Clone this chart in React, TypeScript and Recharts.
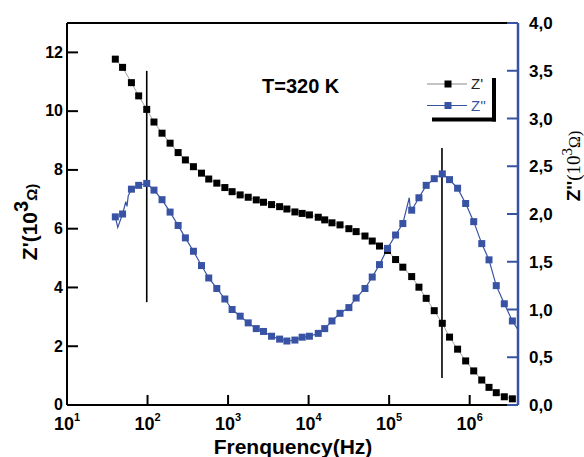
import React from 'react';
import { LineChart, Line, XAxis, YAxis, ReferenceLine, Legend } from 'recharts';

// log10 of frequency (Hz) for each measured point
const logFreq = [1.60, 1.69, 1.80, 1.89, 1.99, 2.08, 2.18, 2.28, 2.38, 2.47, 2.57, 2.67, 2.76, 2.86, 2.96, 3.05, 3.15, 3.25, 3.35, 3.44, 3.54, 3.64, 3.73, 3.83, 3.92, 4.01, 4.12, 4.20, 4.29, 4.39, 4.50, 4.59, 4.70, 4.79, 4.88, 4.98, 5.08, 5.17, 5.28, 5.37, 5.46, 5.56, 5.66, 5.75, 5.85, 5.95, 6.05, 6.15, 6.24, 6.33, 6.43, 6.53];
// Z' (10^3 Ohm)
const zReal = [11.77, 11.49, 10.97, 10.52, 10.06, 9.63, 9.25, 8.91, 8.59, 8.34, 8.11, 7.89, 7.69, 7.55, 7.40, 7.26, 7.15, 7.07, 6.98, 6.90, 6.82, 6.75, 6.67, 6.57, 6.52, 6.47, 6.39, 6.30, 6.20, 6.13, 6.00, 5.90, 5.75, 5.58, 5.41, 5.26, 4.95, 4.69, 4.37, 4.01, 3.63, 3.21, 2.78, 2.31, 1.90, 1.50, 1.16, 0.85, 0.60, 0.42, 0.28, 0.21];
// Z'' (10^3 Ohm)
const zImag = [1.97, 2.00, 2.26, 2.30, 2.32, 2.25, 2.15, 2.02, 1.88, 1.75, 1.61, 1.46, 1.33, 1.22, 1.11, 1.00, 0.93, 0.86, 0.80, 0.77, 0.72, 0.69, 0.67, 0.68, 0.71, 0.72, 0.75, 0.80, 0.88, 0.96, 1.02, 1.12, 1.22, 1.34, 1.47, 1.64, 1.78, 1.90, 2.04, 2.17, 2.30, 2.37, 2.42, 2.36, 2.27, 2.11, 1.92, 1.69, 1.52, 1.25, 1.06, 0.88];
// extra raw (unmarked) Z'' readings visible on the thin line
const zImagExtraFreq = [1.63, 1.73, 1.745, 1.76, 5.25, 5.26, 6.60];
const zImagExtraVal = [1.86, 2.13, 2.08, 2.19, 2.17, 2.08, 0.79];

const xTicks = [1, 2, 3, 4, 5, 6];
const leftTicks = [0, 2, 4, 6, 8, 10, 12];
const rightTicks = [0, 0.5, 1, 1.5, 2, 2.5, 3, 3.5, 4];

// annotation markers (vertical lines) in data units: [logFreq, yTop, yBottom] on Z' axis
const markLines = [
  [1.99, 11.37, 3.5],
  [5.656, 8.75, 0.92],
];

const BLUE = '#3953A4';
const FONT = '"Liberation Sans", Arial, sans-serif';

const realData = logFreq.map((f, i) => ({ f, v: zReal[i] }));
const imagData = logFreq.map((f, i) => ({ f, v: zImag[i] }));
const imagLineData = [
  ...imagData,
  ...zImagExtraFreq.map((f, i) => ({ f, v: zImagExtraVal[i] })),
].sort((a, b) => a.f - b.f);

const legendColors: Record<string, { line: string; mark: string; text: string }> = {
  "Z'": { line: '#8a8a8a', mark: '#000', text: '#222' },
  "Z''": { line: BLUE, mark: BLUE, text: BLUE },
};

const XTick = (props: any) => {
  const { x, y, payload } = props;
  return (
    <g>
      <line x1={x} x2={x} y1={y} y2={y - 10} stroke="#000" strokeWidth={2} />
      <text x={x} y={y + 25} textAnchor="middle" fontSize={18} fontWeight="bold" fill="#000" fontFamily={FONT}>
        10<tspan dy={-9} fontSize={11}>{payload.value}</tspan>
      </text>
    </g>
  );
};

const LeftTick = (props: any) => {
  const { x, y, payload } = props;
  return (
    <g>
      <line x1={x} x2={x + 11} y1={y} y2={y} stroke="#000" strokeWidth={2} />
      <text x={x - 4} y={y} dy="0.33em" textAnchor="end" fontSize={16} fontWeight="bold" fill="#000" fontFamily={FONT}>
        {payload.value}
      </text>
    </g>
  );
};

const RightTick = (props: any) => {
  const { x, y, payload } = props;
  return (
    <g>
      <line x1={x} x2={x - 11} y1={y} y2={y} stroke={BLUE} strokeWidth={2} />
      <text x={x + 11} y={y} dy="0.36em" textAnchor="start" fontSize={17} fontWeight="bold" fill="#000" fontFamily={FONT}>
        {Number(payload.value).toFixed(1).replace('.', ',')}
      </text>
    </g>
  );
};

const squareDot = (color: string) => (p: any) => {
  if (p.cx == null || p.cy == null) return <g key={`n${p.index}`} />;
  return <rect key={`d${p.index}`} x={p.cx - 3.5} y={p.cy - 3.5} width={7} height={7} fill={color} />;
};

const LegendContent = (props: any) => {
  const items = (props.payload || []).filter((e: any) => legendColors[e.value]);
  return (
    <svg width={584} height={457} style={{ position: 'absolute', left: 0, top: 0, overflow: 'visible' }}>
      <text x={262} y={93} fontSize={20} fontWeight="bold" fill="#000" fontFamily={FONT}>T=320 K</text>
      {items.map((e: any, i: number) => {
        const c = legendColors[e.value];
        const y = 84 + i * 21.5;
        return (
          <g key={e.value}>
            <line x1={427} x2={467} y1={y} y2={y} stroke={c.line} strokeWidth={1.2} />
            <rect x={444.5} y={y - 3.5} width={7} height={7} fill={c.mark} />
            <text x={471} y={y + 5} fontSize={15} fill={c.text} fontFamily={FONT}>{e.value}</text>
          </g>
        );
      })}
      <line x1={494} x2={494} y1={78} y2={121.5} stroke="#000" strokeWidth={4} />
      <line x1={432} x2={496} y1={119.5} y2={119.5} stroke="#000" strokeWidth={4} />
    </svg>
  );
};

export default function App() {
  return (
    <div style={{ position: 'absolute', left: 0, top: 0, width: 584, height: 457, background: '#fff', fontFamily: FONT }}>
      <LineChart width={584} height={457} margin={{ top: 23, right: 0, left: 0, bottom: 0 }}>
        <XAxis
          dataKey="f"
          type="number"
          domain={[1, 6.6]}
          ticks={xTicks}
          allowDataOverflow
          height={52}
          tickSize={0}
          tickMargin={0}
          tick={<XTick />}
          axisLine={{ stroke: '#000', strokeWidth: 2 }}
          tickLine={false}
          label={{
            content: () => (
              <text x={293} y={454} textAnchor="middle" fontSize={21} fontWeight="bold" fill="#000" fontFamily={FONT}>
                Frenquency(Hz)
              </text>
            ),
          }}
        />
        <YAxis
          yAxisId="left"
          orientation="left"
          type="number"
          domain={[0, 13]}
          ticks={leftTicks}
          width={67}
          tickSize={0}
          tickMargin={0}
          tick={<LeftTick />}
          tickLine={false}
          axisLine={{ stroke: '#000', strokeWidth: 2 }}
          label={{
            content: () => (
              <text x={37} y={222} transform="rotate(-90, 37, 222)" textAnchor="middle" fontSize={21} fontWeight="bold" fill="#000" fontFamily={FONT}>
                Z'(10<tspan dy={-9} fontSize={20}>3</tspan><tspan dy={9} fontSize={15}>Ω)</tspan>
              </text>
            ),
          }}
        />
        <YAxis
          yAxisId="right"
          orientation="right"
          type="number"
          domain={[0, 4]}
          ticks={rightTicks}
          width={66}
          tickSize={0}
          tickMargin={0}
          tick={<RightTick />}
          tickLine={false}
          axisLine={{ stroke: BLUE, strokeWidth: 2.5 }}
          label={{
            content: () => (
              <text x={580} y={166} transform="rotate(-90, 580, 166)" textAnchor="middle" fontSize={19} fill="#000" fontFamily={FONT}>
                <tspan fontWeight="bold">Z''</tspan>
                <tspan fontFamily="'Liberation Serif', serif">(10</tspan>
                <tspan dy={-8} fontSize={15} fontFamily="'Liberation Serif', serif">3</tspan>
                <tspan dy={8} fontSize={16} fontFamily="'Liberation Serif', serif">Ω)</tspan>
              </text>
            ),
          }}
        />
        <ReferenceLine yAxisId="left" y={13} stroke="#000" strokeWidth={2} />
        <Line
          yAxisId="left"
          data={realData}
          dataKey="v"
          name="Z'"
          stroke="#8a8a8a"
          strokeWidth={0.8}
          dot={squareDot('#000')}
          activeDot={false}
          isAnimationActive={false}
        />
        <Line
          yAxisId="right"
          data={imagLineData}
          dataKey="v"
          name="Z'' raw"
          stroke={BLUE}
          strokeWidth={1.2}
          dot={false}
          activeDot={false}
          legendType="none"
          isAnimationActive={false}
        />
        <Line
          yAxisId="right"
          data={imagData}
          dataKey="v"
          name="Z''"
          stroke="none"
          dot={squareDot(BLUE)}
          activeDot={false}
          isAnimationActive={false}
        />
        {markLines.map(([x, y1, y2], i) => (
          <ReferenceLine
            key={i}
            yAxisId="left"
            segment={[{ x, y: y1 }, { x, y: y2 }]}
            stroke="#000"
            strokeWidth={1.6}
            ifOverflow="visible"
          />
        ))}
        <Legend
          layout="horizontal"
          verticalAlign="middle"
          align="center"
          content={<LegendContent />}
          wrapperStyle={{ position: 'absolute', left: 0, top: 0, width: 584, height: 457, pointerEvents: 'none' }}
        />
      </LineChart>
    </div>
  );
}
